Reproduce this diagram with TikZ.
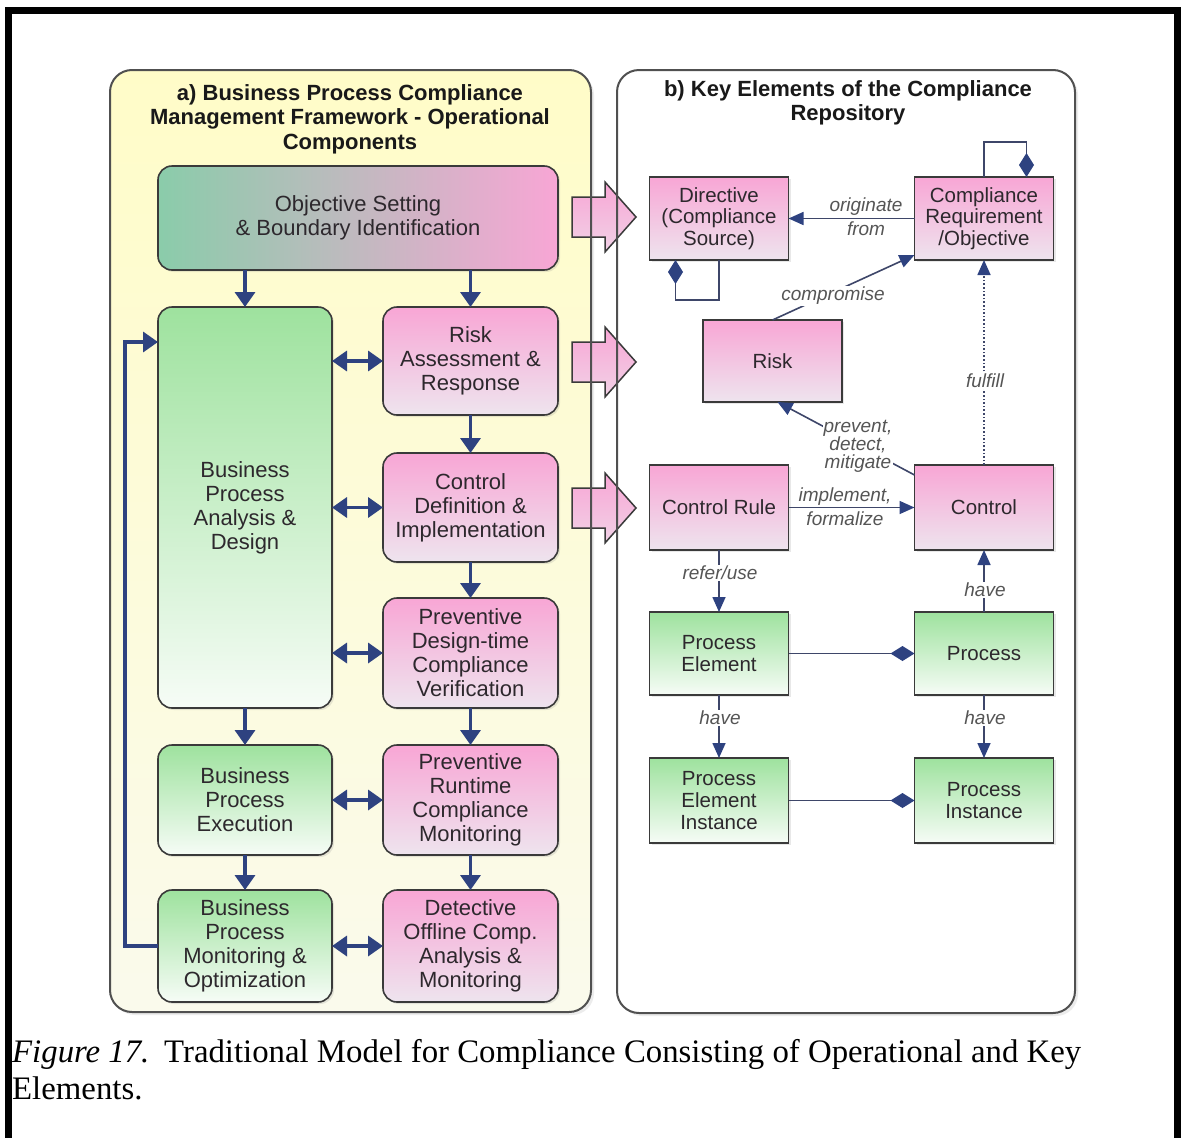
\documentclass[tikz,border=0pt]{standalone}
\usepackage{fontspec}
\setmainfont{Liberation Serif}
\newfontfamily\arialfont{Liberation Sans}
\usetikzlibrary{arrows.meta,shadows}

\definecolor{navy}{RGB}{46,66,128}
\definecolor{linegray}{RGB}{62,70,105}
\definecolor{boxedge}{RGB}{58,58,58}
\definecolor{paneledge}{RGB}{80,80,80}
\definecolor{pinktop}{RGB}{248,166,213}
\definecolor{pinkbot}{RGB}{238,228,238}
\definecolor{greentop}{RGB}{158,226,158}
\definecolor{greenbot}{RGB}{246,252,246}
\definecolor{tealgreen}{RGB}{138,204,170}
\definecolor{panelyellow}{RGB}{255,252,200}
\definecolor{panelcream}{RGB}{250,250,236}
\definecolor{labelgray}{RGB}{85,85,85}
\definecolor{boxtext}{RGB}{45,40,45}

\tikzset{
  softshadow/.style={drop shadow={shadow xshift=2pt,shadow yshift=-2pt,opacity=0.18}},
  leftbox/.style={draw=boxedge, line width=1.6pt, rounded corners=14pt, align=center,
    inner sep=0pt, outer sep=0pt, text=boxtext, softshadow,
    font=\arialfont\fontsize{22}{24}\selectfont},
  pinkfill/.style={top color=pinktop, bottom color=pinkbot},
  greenfill/.style={top color=greentop, bottom color=greenbot},
  repbox/.style={draw=boxedge, line width=1.4pt, align=center, inner sep=0pt,
    outer sep=0pt, text=boxtext, minimum width=139pt, softshadow,
    font=\arialfont\fontsize{20.5}{21.7}\selectfont},
  flow/.style={navy, line width=3.5pt, -{Triangle[length=15pt,width=20pt]}},
  twoway/.style={navy, line width=3.5pt,
    {Triangle[length=15pt,width=20pt]}-{Triangle[length=15pt,width=20pt]}},
  rel/.style={linegray, line width=1.6pt,
    -{Triangle[length=15pt,width=13pt,color=navy,fill=navy]}},
  part/.style={linegray, line width=1.6pt,
    -{Diamond[length=24pt,width=15pt,color=navy,fill=navy]}},
  lbl/.style={font=\arialfont\itshape\fontsize{19}{21.7}\selectfont, text=labelgray,
    align=center, inner sep=1pt},
  blockarrow/.style={draw=boxedge, line width=1.5pt, top color=pinktop,
    bottom color=pinkbot!70!pinktop},
  paneltitle/.style={font=\arialfont\bfseries\fontsize{22}{24.5}\selectfont,
    align=center, text=black!90},
  captionfont/.style={font=\fontsize{32.8}{37}\selectfont, inner sep=0pt}
}

\begin{document}
\begin{tikzpicture}[x=1pt,y=-1pt]
\useasboundingbox (0,0) rectangle (1181,1138);
\fill[white] (0,0) rectangle (1181,1138);

% page frame, open at the bottom
\draw[line width=7pt] (8,1138) -- (8,10) -- (1177,10) -- (1177,1138);

% panel backgrounds
\path[top color=panelyellow, bottom color=panelcream, rounded corners=22pt,
  drop shadow={shadow xshift=3pt,shadow yshift=-3pt,opacity=0.15}]
  (110,70) rectangle (591,1012);
\path[fill=white, rounded corners=22pt,
  drop shadow={shadow xshift=3pt,shadow yshift=-3pt,opacity=0.15}]
  (617,70) rectangle (1075,1013);

% hand-over arrows from the framework to the repository
\foreach \cy in {217,362,508} {
  \path[blockarrow] (572,\cy-20) -- (605,\cy-20) -- (605,\cy-35) -- (636,\cy)
    -- (605,\cy+35) -- (605,\cy+20) -- (572,\cy+20) -- cycle;
}

% panel outlines
\draw[paneledge, line width=2pt, rounded corners=22pt] (110,70) rectangle (591,1012);
\draw[paneledge, line width=2pt, rounded corners=22pt] (617,70) rectangle (1075,1013);

% ---------------- a) operational components ----------------
\node[paneltitle] (titleA) at (350,119)
  {a) Business Process Compliance\\Management Framework - Operational\\Components};

\node[leftbox, left color=tealgreen, right color=pinktop,
  minimum width=400pt, minimum height=104pt] (obj) at (358,218)
  {Objective Setting\\\& Boundary Identification};

\node[leftbox, greenfill, minimum width=174pt, minimum height=401pt] (bpad) at (245,507.5)
  {Business\\Process\\Analysis \&\\Design};
\node[leftbox, greenfill, minimum width=174pt, minimum height=110pt] (bpe) at (245,800)
  {Business\\Process\\Execution};
\node[leftbox, greenfill, minimum width=174pt, minimum height=112pt] (bpmo) at (245,946)
  {Business\\Process\\Monitoring \&\\Optimization};

\node[leftbox, pinkfill, minimum width=175pt, minimum height=108pt] (risk) at (470.5,361)
  {Risk\\Assessment \&\\Response};
\node[leftbox, pinkfill, minimum width=175pt, minimum height=109pt] (cdef) at (470.5,507.5)
  {Control\\Definition \&\\Implementation};
\node[leftbox, pinkfill, minimum width=175pt, minimum height=110pt] (pdt) at (470.5,653)
  {Preventive\\Design-time\\Compliance\\Verification};
\node[leftbox, pinkfill, minimum width=175pt, minimum height=110pt] (prt) at (470.5,800)
  {Preventive\\Runtime\\Compliance\\Monitoring};
\node[leftbox, pinkfill, minimum width=175pt, minimum height=112pt] (det) at (470.5,946)
  {Detective\\Offline Comp.\\Analysis \&\\Monitoring};

\draw[flow] (obj.south -| bpad.north) -- (bpad.north);
\draw[flow] (obj.south -| risk.north) -- (risk.north);
\draw[flow] (risk.south) -- (cdef.north);
\draw[flow] (cdef.south) -- (pdt.north);
\draw[flow] (pdt.south) -- (prt.north);
\draw[flow] (prt.south) -- (det.north);
\draw[flow] (bpad.south) -- (bpe.north);
\draw[flow] (bpe.south) -- (bpmo.north);

\draw[twoway] (risk.west -| bpad.east) -- (risk.west);
\draw[twoway] (cdef.west -| bpad.east) -- (cdef.west);
\draw[twoway] (pdt.west -| bpad.east) -- (pdt.west);
\draw[twoway] (bpe.east) -- (prt.west);
\draw[twoway] (bpmo.east) -- (det.west);

\coordinate (loopin) at ([yshift=-35pt]bpad.north west);
\draw[flow, rounded corners=0pt] (bpmo.west) -- ++(-33,0) |- (loopin);

% ---------------- b) compliance repository ----------------
\node[paneltitle] (titleB) at (848,103)
  {b) Key Elements of the Compliance\\Repository};

\node[repbox, pinkfill, minimum height=83pt] (dir) at (719,218.5)
  {Directive\\(Compliance\\Source)};
\node[repbox, pinkfill, minimum height=83pt] (cr) at (984,218.5)
  {Compliance\\Requirement\\/Objective};
\node[repbox, pinkfill, minimum height=82pt] (riskb) at (772.5,361) {Risk};
\node[repbox, pinkfill, minimum height=85pt] (crule) at (719,507.5) {Control Rule};
\node[repbox, pinkfill, minimum height=85pt] (ctrl) at (984,507.5) {Control};
\node[repbox, greenfill, minimum height=83pt] (pe) at (719,653.5) {Process\\Element};
\node[repbox, greenfill, minimum height=83pt] (proc) at (984,653.5) {Process};
\node[repbox, greenfill, minimum height=85pt] (pei) at (719,800.5)
  {Process\\Element\\Instance};
\node[repbox, greenfill, minimum height=85pt] (pinst) at (984,800.5)
  {Process\\Instance};

% self aggregations
\draw[part] (cr.north) -- ++(0,-35) -| ([xshift=-27pt]cr.north east);
\draw[part] (dir.south) -- ++(0,40) -| ([xshift=26pt]dir.south west);

% relations
\draw[rel] (cr.west) -- (dir.east);
\draw[rel] (riskb.north) -- ([yshift=5pt]cr.south west);
\draw[rel, dotted] (ctrl.north) -- (cr.south);
\draw[rel] ([yshift=-10pt]ctrl.north west) -- ([xshift=5pt]riskb.south);
\draw[rel] (crule.east) -- (ctrl.west);
\draw[rel] (crule.south) -- (pe.north);
\draw[rel] (proc.north) -- (ctrl.south);
\draw[part] (pe.east) -- (proc.west);
\draw[rel] (pe.south) -- (pei.north);
\draw[rel] (proc.south) -- (pinst.north);
\draw[part] (pei.east) -- (pinst.west);

% relation labels
\node[lbl] (lorig) at (866,207) {originate};
\node[lbl] (lfrom) at (866,229) {from};
\node[lbl, fill=white] (lcomp) at (833,296) {compromise};
\node[lbl, fill=white] (lfulfill) at (985,381) {fulfill};
\node[lbl, fill=white, font=\arialfont\itshape\fontsize{19}{15}\selectfont]
  (lprev) at (858,446) {prevent,\\detect,\\mitigate};
\node[lbl] (limpl) at (845,497) {implement,};
\node[lbl] (lform) at (845,519) {formalize};
\node[lbl, fill=white] (lrefer) at (720,573) {refer/use};
\node[lbl, fill=white] (lhave1) at (985,590) {have};
\node[lbl, fill=white] (lhave2) at (720,718) {have};
\node[lbl, fill=white] (lhave3) at (985,718) {have};

% caption
\node[captionfont, anchor=base west] (cap1) at (12,1062)
  {\textit{Figure 17.}\hspace{0.45em}Traditional Model for Compliance Consisting of Operational and Key};
\node[captionfont, anchor=base west] (cap2) at (12,1099) {Elements.};
\end{tikzpicture}
\end{document}
